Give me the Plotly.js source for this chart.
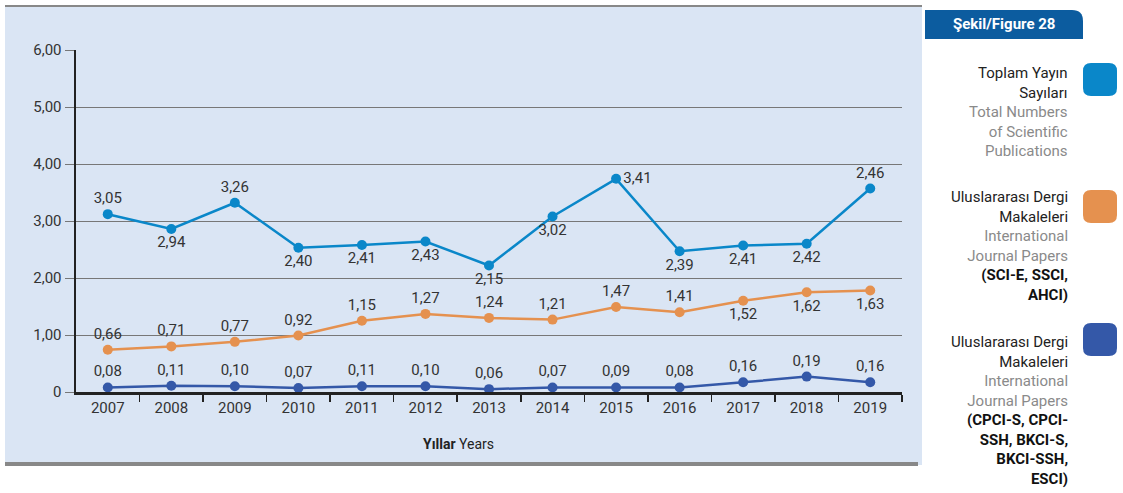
<!DOCTYPE html>
<html><head><meta charset="utf-8">
<script src="https://cdn.plot.ly/plotly-3.0.1.min.js"></script>
<style>html,body{margin:0;padding:0;background:#fff}#chart{width:1123px;height:493px}</style>
</head><body><div id="chart"></div>
<script>
// ---- data ----
const years = [2007,2008,2009,2010,2011,2012,2013,2014,2015,2016,2017,2018,2019];
const totalValues = [3.12,2.86,3.32,2.53,2.58,2.64,2.22,3.08,3.74,2.47,2.57,2.60,3.57];
const totalLabels = ['3,05','2,94','3,26','2,40','2,41','2,43','2,15','3,02','3,41','2,39','2,41','2,42','2,46'];
const sciValues = [0.74,0.80,0.88,0.99,1.25,1.37,1.30,1.27,1.49,1.40,1.60,1.75,1.78];
const sciLabels = ['0,66','0,71','0,77','0,92','1,15','1,27','1,24','1,21','1,47','1,41','1,52','1,62','1,63'];
const cpciValues = [0.08,0.11,0.10,0.07,0.10,0.10,0.05,0.08,0.08,0.08,0.17,0.27,0.17];
const cpciLabels = ['0,08','0,11','0,10','0,07','0,11','0,10','0,06','0,07','0,09','0,08','0,16','0,19','0,16'];
const yTickVals = [0,1,2,3,4,5,6];
const yTickText = ['0','1,00','2,00','3,00','4,00','5,00','6,00'];
const xTitleBold = 'Yıllar';
const xTitle = 'Years';
const figureTitle = 'Şekil/Figure 28';
const legendTexts = [
  {tr:['Toplam Yayın','Sayıları'], en:['Total Numbers','of Scientific','Publications'], b:[]},
  {tr:['Uluslararası Dergi','Makaleleri'], en:['International','Journal Papers'], b:['(SCI-E, SSCI,','AHCI)']},
  {tr:['Uluslararası Dergi','Makaleleri'], en:['International','Journal Papers'], b:['(CPCI-S, CPCI-','SSH, BKCI-S,','BKCI-SSH,','ESCI)']}
];

// ---- style ----
const colors = ['#0a87c9','#e5914f','#3458a8'];
const FONT = 'Roboto, "Liberation Sans", sans-serif';
const L=76, R=902, T=50, B=392, W=1123, H=493;
const fx = px => (px-L)/(R-L);
const fy = py => (B-py)/(B-T);

const totalPos = ['top center','bottom center','top center','bottom center','bottom center','bottom center','bottom center','bottom center','middle right','bottom center','bottom center','bottom center','top center'];
const sciPos = years.map((y,i)=> i<10 ? 'top center' : 'bottom center');
const cpciPos = years.map(()=> 'top center');

function tr(x,y,t,c,pos){
  return {x:x,y:y,text:t,mode:'lines+markers+text',type:'scatter',
    line:{color:c,width:2.5},marker:{color:c,size:10},
    textposition:pos,textfont:{family:FONT,size:15,color:'#333'},
    cliponaxis:false,hoverinfo:'skip',showlegend:false};
}
const data = [
  tr(years,cpciValues,cpciLabels,colors[2],cpciPos),
  tr(years,sciValues,sciLabels,colors[1],sciPos),
  tr(years,totalValues,totalLabels,colors[0],totalPos)
];

function rrect(x0,y0,x1,y1,r,tl,tr_,br,bl){
  // pixel coords -> paper path
  const P=(x,y)=>fx(x)+','+fy(y);
  const a=tl?r:0,b=tr_?r:0,c=br?r:0,d=bl?r:0;
  return 'M'+P(x0+a,y0)+' L'+P(x1-b,y0)+' Q'+P(x1,y0)+' '+P(x1,y0+b)+
    ' L'+P(x1,y1-c)+' Q'+P(x1,y1)+' '+P(x1-c,y1)+
    ' L'+P(x0+d,y1)+' Q'+P(x0,y1)+' '+P(x0,y1-d)+
    ' L'+P(x0,y0+a)+' Q'+P(x0,y0)+' '+P(x0+a,y0)+' Z';
}

const shapes = [
  {type:'rect',xref:'paper',yref:'paper',x0:fx(5),x1:fx(922),y0:fy(465),y1:fy(6),fillcolor:'#dae5f4',line:{width:0},layer:'below'},
  {type:'line',xref:'paper',yref:'paper',x0:fx(5),x1:fx(922),y0:fy(6),y1:fy(6),line:{color:'#888',width:2},layer:'below'},
  {type:'line',xref:'paper',yref:'paper',x0:fx(5),x1:fx(918),y0:fy(464),y1:fy(464),line:{color:'#888',width:4},layer:'below'},
  {type:'path',xref:'paper',yref:'paper',path:rrect(925,10,1083,39,11,false,true,false,false),fillcolor:'#0c5c9f',line:{width:0}},
  {type:'path',xref:'paper',yref:'paper',path:rrect(1083,63,1117,96,8,true,true,true,true),fillcolor:colors[0],line:{width:0}},
  {type:'path',xref:'paper',yref:'paper',path:rrect(1083,190,1117,223,8,true,true,true,true),fillcolor:colors[1],line:{width:0}},
  {type:'path',xref:'paper',yref:'paper',path:rrect(1083,323,1117,356,8,true,true,true,true),fillcolor:colors[2],line:{width:0}}
];

const legendTops = [62,186,331];
const annotations = [
  {xref:'paper',yref:'paper',x:fx(421),y:fy(444),xanchor:'left',yanchor:'middle',showarrow:false,
   text:'<b>'+xTitleBold+'</b> '+xTitle,font:{family:FONT,size:14,color:'#222'}},
  {xref:'paper',yref:'paper',x:fx(1004),y:fy(24),xanchor:'center',yanchor:'middle',showarrow:false,
   text:'<b>'+figureTitle+'</b>',font:{family:FONT,size:15,color:'#fff'}}
];
legendTexts.forEach((g,i)=>{
  const lines = g.tr.map(s=>'<span style="color:#222">'+s+'</span>')
    .concat(g.en.map(s=>'<span style="color:#8a8a8a">'+s+'</span>'))
    .concat(g.b.map(s=>'<b><span style="color:#111">'+s+'</span></b>'));
  annotations.push({xref:'paper',yref:'paper',x:fx(1070),y:fy(legendTops[i]),xanchor:'right',yanchor:'top',
    align:'right',showarrow:false,text:lines.join('<br>'),font:{family:FONT,size:15,color:'#222'}});
});

const layout = {
  width:W,height:H,margin:{l:L,r:W-R,t:T,b:H-B,pad:0},
  paper_bgcolor:'#fff',plot_bgcolor:'rgba(0,0,0,0)',
  font:{family:FONT,size:15,color:'#333'},
  xaxis:{range:[2006.5,2019.5],tickmode:'array',tickvals:years,ticktext:years.map(String),
    ticks:'',showgrid:false,zeroline:false,showline:true,linecolor:'#222',linewidth:2.5,
    tickfont:{family:FONT,size:15,color:'#333'},
    minor:{tickmode:'array',tickvals:years.map(y=>y+0.5),ticks:'outside',ticklen:7,tickwidth:1.5,tickcolor:'#222',showgrid:false}},
  yaxis:{range:[0,6],tickmode:'array',tickvals:yTickVals,ticktext:yTickText,
    ticks:'outside',ticklen:9,tickcolor:'#777',tickwidth:1,
    showgrid:true,gridcolor:'#777',gridwidth:1,zeroline:false,showline:true,linecolor:'#222',linewidth:2.5,
    tickfont:{family:FONT,size:15,color:'#333'}},
  shapes:shapes,annotations:annotations,showlegend:false
};
Plotly.newPlot('chart',data,layout,{staticPlot:true,displayModeBar:false});
</script></body></html>
